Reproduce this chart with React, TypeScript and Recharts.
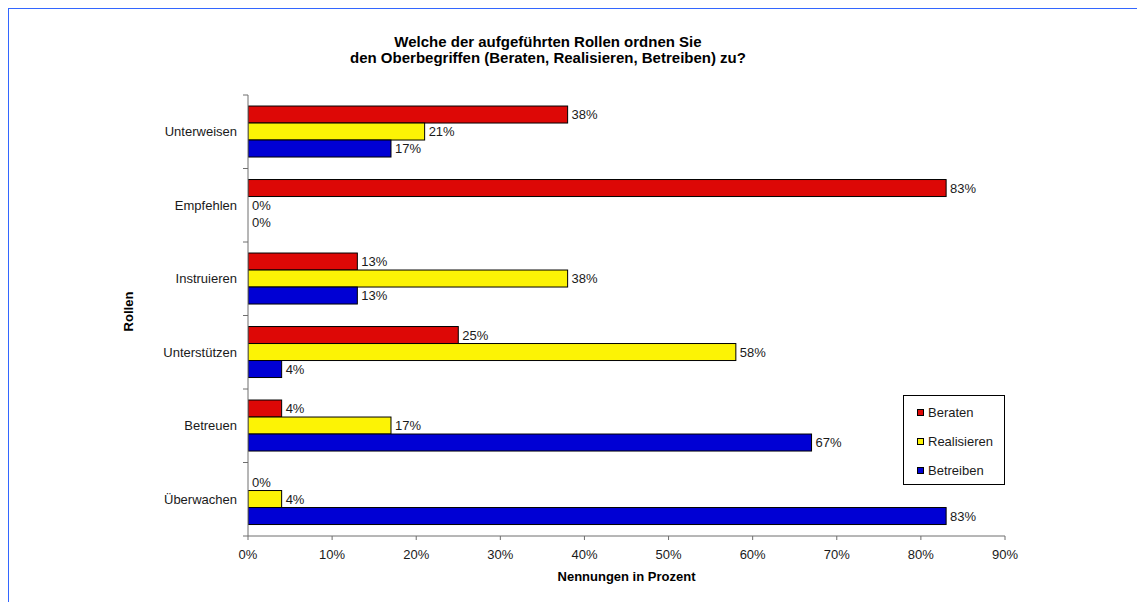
import React from 'react';
import { BarChart, Bar, XAxis, YAxis, Legend, LabelList, Label } from 'recharts';

const categories = ['Unterweisen', 'Empfehlen', 'Instruieren', 'Unterstützen', 'Betreuen', 'Überwachen'];
const beraten = [38, 83, 13, 25, 4, 0];
const realisieren = [21, 0, 38, 58, 17, 4];
const betreiben = [17, 0, 13, 4, 67, 83];
const seriesNames = ['Beraten', 'Realisieren', 'Betreiben'];
const seriesColors = ['#DD0806', '#FCF305', '#0000D4'];
const xTicks = [0, 10, 20, 30, 40, 50, 60, 70, 80, 90];
const titleLines = ['Welche der aufgeführten Rollen ordnen Sie', 'den Oberbegriffen (Beraten, Realisieren, Betreiben) zu?'];
const yAxisTitle = 'Rollen';
const xAxisTitle = 'Nennungen in Prozent';

const data = categories.map((c, i) => ({
  rolle: c,
  [seriesNames[0]]: beraten[i],
  [seriesNames[1]]: realisieren[i],
  [seriesNames[2]]: betreiben[i],
}));

const FONT = '"Liberation Sans", Arial, Helvetica, sans-serif';
const W = 1129;
const H = 594;
const MARGIN = { top: 87, right: 132, bottom: 26, left: 0 };
const Y_W = 240;
const X_H = 40;
const PLOT_H = H - MARGIN.top - MARGIN.bottom - X_H;
const BAND = PLOT_H / categories.length;
const AXIS_COLOR = '#6e6e6e';
const TEXT_COLOR = '#1a1a1a';

const CatTick = (props: any) => {
  const { x, y, payload, index } = props;
  return (
    <g>
      <text x={x} y={y} dy="0.355em" textAnchor="end" fontSize={13} fontFamily={FONT} fill={TEXT_COLOR}>
        {payload.value}
      </text>
      <line x1={x + 6} x2={x + 11} y1={y + BAND / 2} y2={y + BAND / 2} stroke={AXIS_COLOR} strokeWidth={1} />
      {index === 0 && (
        <line x1={x + 6} x2={x + 11} y1={y - BAND / 2} y2={y - BAND / 2} stroke={AXIS_COLOR} strokeWidth={1} />
      )}
    </g>
  );
};

const renderLegend = (props: any) => {
  const payload = [...(props.payload || [])].sort(
    (a: any, b: any) => seriesNames.indexOf(a.value) - seriesNames.indexOf(b.value)
  );
  return (
    <div
      style={{
        boxSizing: 'border-box',
        width: 102,
        height: 90,
        border: '1px solid #000',
        background: '#fff',
        paddingTop: 2,
        paddingLeft: 13,
        fontFamily: FONT,
        fontSize: 13,
        color: TEXT_COLOR,
        textAlign: 'left',
      }}
    >
      {payload.map((entry: any) => (
        <div key={entry.value} style={{ height: 29, display: 'flex', alignItems: 'center' }}>
          <span
            style={{
              display: 'inline-block',
              boxSizing: 'border-box',
              width: 7,
              height: 7,
              background: entry.color,
              border: '1px solid #000',
              marginRight: 4,
            }}
          />
          <span>{entry.value}</span>
        </div>
      ))}
    </div>
  );
};

const YTitle = (props: any) => {
  const vb = props.viewBox || {};
  const cx = vb.x + vb.width / 2;
  const cy = vb.y + vb.height / 2 - 4;
  return (
    <text
      x={cx}
      y={cy}
      transform={`rotate(-90 ${cx} ${cy})`}
      textAnchor="middle"
      dominantBaseline="central"
      fontSize={13}
      fontWeight="bold"
      fontFamily={FONT}
      fill="#000"
    >
      {yAxisTitle}
    </text>
  );
};

const XTitle = (props: any) => {
  const vb = props.viewBox || {};
  return (
    <text
      x={vb.x + vb.width / 2}
      y={vb.y + 44.5}
      textAnchor="middle"
      fontSize={13}
      fontWeight="bold"
      fontFamily={FONT}
      fill="#000"
    >
      {xAxisTitle}
    </text>
  );
};

const BarShape = (props: any) => {
  const { x, y, width, height, fill } = props;
  if (!(width > 0.5)) return <g />;
  return <rect x={x} y={y} width={width} height={height} fill={fill} stroke="#000" strokeWidth={1} />;
};

export default function App() {
  return (
    <div style={{ position: 'relative', width: W, height: H, fontFamily: FONT, background: '#fff' }}>
      <div style={{ position: 'absolute', left: -1, top: -1, width: 1138, height: 2, background: '#3366FF' }} />
      <div style={{ position: 'absolute', left: -1, top: -1, width: 2, height: 603, background: '#3366FF' }} />
      <div
        style={{
          position: 'absolute',
          left: 0,
          top: 26,
          width: 1080,
          textAlign: 'center',
          fontSize: 15,
          fontWeight: 'bold',
          lineHeight: '16px',
          color: '#000',
        }}
      >
        {titleLines.map((l) => (
          <div key={l}>{l}</div>
        ))}
      </div>
      <BarChart
        width={W}
        height={H}
        data={data}
        layout="vertical"
        margin={MARGIN}
        barCategoryGap="15%"
        barGap={0}
      >
        <XAxis
          type="number"
          domain={[0, 90]}
          ticks={xTicks}
          tickFormatter={(v: number) => `${v}%`}
          height={X_H}
          tickSize={4}
          tickMargin={10}
          stroke={AXIS_COLOR}
          tick={{ fontSize: 13, fontFamily: FONT, fill: TEXT_COLOR }}
          allowDataOverflow
        >
          <Label content={<XTitle />} />
        </XAxis>
        <YAxis
          type="category"
          dataKey="rolle"
          width={Y_W}
          tickSize={0}
          tickMargin={11}
          tickLine={false}
          stroke={AXIS_COLOR}
          tick={<CatTick />}
          interval={0}
        >
          <Label content={<YTitle />} />
        </YAxis>
        <Legend
          layout="horizontal"
          verticalAlign="middle"
          align="center"
          content={renderLegend}
          wrapperStyle={{ position: 'absolute', left: 895, top: 387, width: 102, height: 90 }}
        />
        {seriesNames.map((name, i) => (
          <Bar
            key={name}
            dataKey={name}
            fill={seriesColors[i]}
            stroke="#000"
            strokeWidth={1}
            minPointSize={0.01}
            shape={<BarShape />}
            isAnimationActive={false}
          >
            <LabelList
              dataKey={name}
              position="right"
              offset={4}
              formatter={(v: any) => `${v}%`}
              style={{ fontSize: 13, fontFamily: FONT, fill: TEXT_COLOR }}
            />
          </Bar>
        ))}
      </BarChart>
    </div>
  );
}
